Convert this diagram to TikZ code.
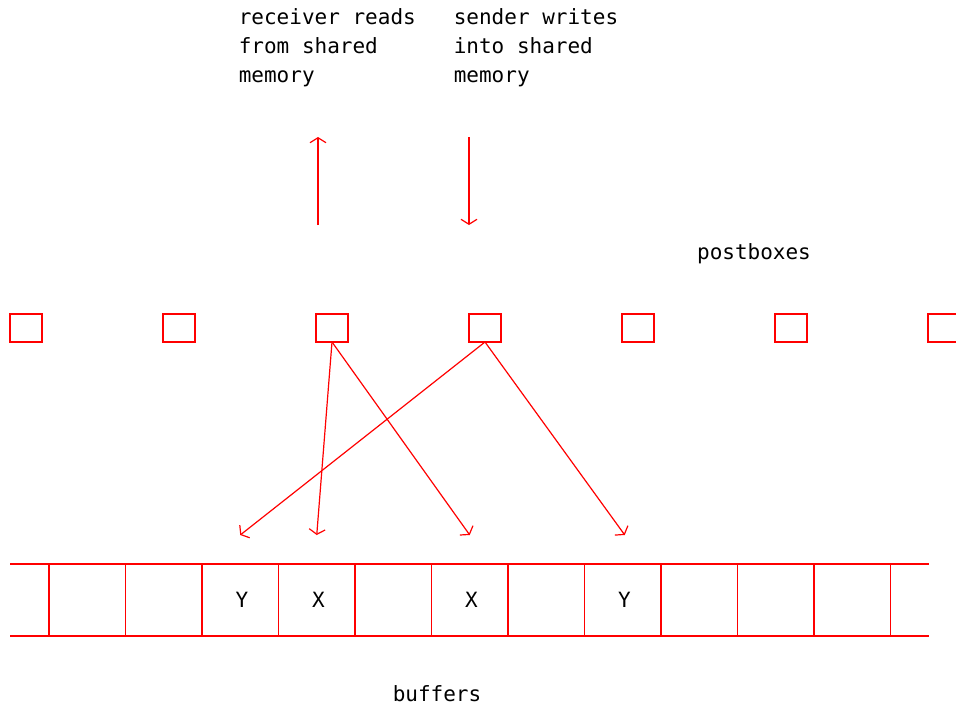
\documentclass[tikz,border=0pt]{standalone}
\usepackage{fontspec}
\setmonofont{DejaVu Sans Mono}
\usetikzlibrary{positioning,arrows.meta}

\begin{document}
\begin{tikzpicture}[x=1pt, y=-1pt, node distance={76.5pt}, line width=1.6pt,
  box/.style = {draw=red, minimum width=32pt, minimum height=28pt, inner sep=0pt, outer sep=0pt},
  cell/.style = {draw=red, minimum width=76.5pt, minimum height=72pt, inner sep=0pt, outer sep=0pt, text=black, font=\ttfamily\fontsize{21}{29}\selectfont},
  lbl/.style = {text=black, inner sep=0pt, font=\ttfamily\fontsize{21}{29}\selectfont},
  ptr/.style = {draw=red, line width=1.2pt, -{Straight Barb[length=5pt,width=16pt]}}]
\useasboundingbox (0,0) rectangle (956,710);

% postboxes
\node[box] (p1) at (26,328) {};
\node[box] (p2) [right of=p1, xshift=76.5pt] {};
\node[box] (p3) [right of=p2, xshift=76.5pt] {};
\node[box] (p4) [right of=p3, xshift=76.5pt] {};
\node[box] (p5) [right of=p4, xshift=76.5pt] {};
\node[box] (p6) [right of=p5, xshift=76.5pt] {};
\node[box] (p7) [right of=p6, xshift=76.5pt] {};

% buffer strip
\node[cell] (b1) at (87.25,600) {};
\node[cell] (b2) [right of=b1] {};
\node[cell] (b3) [right of=b2] {\,Y};
\node[cell] (b4) [right of=b3] {\,X};
\node[cell] (b5) [right of=b4] {};
\node[cell] (b6) [right of=b5] {\,X};
\node[cell] (b7) [right of=b6] {};
\node[cell] (b8) [right of=b7] {\,Y};
\node[cell] (b9) [right of=b8] {};
\node[cell] (b10) [right of=b9] {};
\node[cell] (b11) [right of=b10] {};
\coordinate (l) at (10,600);
\coordinate (r) at (929,600);
\draw[red] (l |- b1.north) -- (b1.north west);
\draw[red] (l |- b1.south) -- (b1.south west);
\draw[red] (b11.north east) -- (r |- b11.north);
\draw[red] (b11.south east) -- (r |- b11.south);

% texts
\node[lbl, align=left, anchor=north west] (rcv) at (238,8) {receiver reads\\from shared\\memory};
\node[lbl, align=left, anchor=north west] (snd) at (453,8) {sender writes\\into shared\\memory};
\node[lbl] (pbx) at (754,254) {postboxes};
\node[lbl] (buf) at (437,694) {buffers};

% read / write
\coordinate (ra) at (318,225);
\coordinate (rb) at (318,137);
\coordinate (sa) at (469,137);
\coordinate (sb) at (469,225);
\draw[ptr] (ra) -- (rb);
\draw[ptr] (sa) -- (sb);

% postbox pointers
\draw[ptr] (p3.south) -- ([yshift=29pt]b4.north);
\draw[ptr] (p3.south) -- ([yshift=29pt]b6.north);
\draw[ptr] (p4.south) -- ([yshift=29pt]b3.north);
\draw[ptr] (p4.south) -- ([yshift=29pt, xshift=2pt]b8.north);
\end{tikzpicture}
\end{document}
